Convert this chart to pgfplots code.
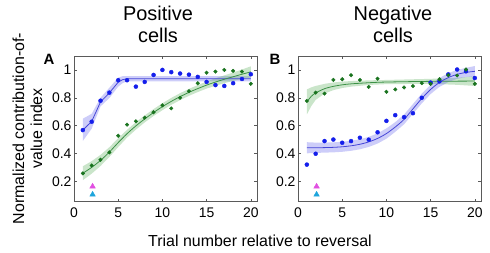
\documentclass[border=0pt]{standalone}
\usepackage{pgfplots}
\pgfplotsset{compat=1.18}
\usepackage{fontspec}
\setmainfont{Liberation Sans}
\definecolor{ptblue}{RGB}{20,30,235}
\definecolor{lnblue}{RGB}{70,70,215}
\definecolor{bdblue}{RGB}{90,90,235}
\definecolor{ptgreen}{RGB}{25,115,30}
\definecolor{lngreen}{RGB}{60,145,70}
\definecolor{bdgreen}{RGB}{80,170,80}
\definecolor{tmag}{RGB}{225,80,225}
\definecolor{tcyan}{RGB}{30,165,220}
\definecolor{frame}{RGB}{90,90,90}
\pgfplotsset{
  panel/.style={
    scale only axis, width=183bp, height=145.5bp,
    xmin=0, xmax=20.7, ymin=0.055, ymax=1.1,
    xtick={0,5,10,15,20}, ytick={0.2,0.4,0.6,0.8,1},
    tick align=inside, major tick length=3bp,
    axis line style={frame, line width=0.5pt},
    tick style={frame, line width=0.4pt},
    ticklabel style={font=\fontsize{14}{15}\selectfont},
    /pgf/number format/assume math mode=true,
    xticklabel style={yshift=-3bp},
    yticklabel style={xshift=1bp},
  },
}
\begin{document}
\begin{tikzpicture}
% Panel A
\begin{axis}[panel, at={(74bp,50.5bp)}, anchor=south west]
\addplot[fill=bdblue, fill opacity=0.3, draw=none] coordinates {(1,0.65) (2,0.685) (3,0.80) (4,0.872) (5,0.945) (5.5,0.955) (6,0.955) (20,0.955) (20,0.918) (6,0.918) (5.5,0.905) (5,0.88) (4,0.798) (3,0.738) (2,0.578) (1,0.49)} -- cycle;
\addplot[fill=bdgreen, fill opacity=0.3, draw=none] coordinates {(1,0.308) (2,0.345) (3,0.39) (4,0.445) (5,0.51) (6,0.57) (7,0.625) (8,0.673) (9,0.719) (10,0.761) (11,0.799) (12,0.833) (13,0.864) (14,0.891) (15,0.916) (16,0.94) (17,0.961) (18,0.981) (19,1.003) (20,1.026) (20,0.946) (19,0.935) (18,0.921) (17,0.905) (16,0.886) (15,0.866) (14,0.841) (13,0.814) (12,0.783) (11,0.749) (10,0.711) (9,0.669) (8,0.623) (7,0.571) (6,0.514) (5,0.446) (4,0.375) (3,0.31) (2,0.255) (1,0.208)} -- cycle;
\addplot[lnblue, line width=0.8pt] coordinates {(1,0.568) (2,0.63) (3,0.77) (4,0.835) (5,0.912) (5.5,0.93) (6,0.936) (20,0.937)};
\addplot[lngreen, line width=0.8pt, smooth] coordinates {(1,0.258) (2,0.30) (3,0.35) (4,0.41) (5,0.478) (6,0.542) (7,0.598) (8,0.648) (9,0.694) (10,0.736) (11,0.774) (12,0.808) (13,0.839) (14,0.866) (15,0.891) (16,0.913) (17,0.933) (18,0.951) (19,0.969) (20,0.986)};
\addplot[only marks, mark=*, mark size=2bp, ptblue] coordinates {(1,0.568) (2,0.628) (3,0.779) (4,0.837) (5,0.926) (6,0.926) (7,0.880) (8,0.914) (9,0.964) (10,1.0) (11,0.984) (12,0.974) (13,0.966) (14,0.950) (15,0.914) (16,0.891) (17,0.885) (18,0.905) (19,0.935) (20,0.969)};
\addplot[only marks, mark=*, mark size=1.8bp, ptgreen] coordinates {(1,0.257) (2,0.314) (3,0.355) (4,0.408) (5,0.527) (6,0.607) (7,0.631) (8,0.657) (9,0.696) (10,0.746) (11,0.724) (12,0.800) (13,0.847) (14,0.904) (15,0.980) (16,0.988) (17,1.000) (18,0.993) (19,0.988) (20,0.900)};
\addplot[only marks, mark=triangle*, mark size=3.2bp, tmag] coordinates {(2.1,0.163)};
\addplot[only marks, mark=triangle*, mark size=3.2bp, tcyan] coordinates {(2.1,0.105)};
\end{axis}
% Panel B
\begin{axis}[panel, at={(298bp,50.5bp)}, anchor=south west]
\addplot[fill=bdgreen, fill opacity=0.3, draw=none] coordinates {(1,0.86) (1.5,0.875) (2,0.885) (3,0.90) (4,0.91) (5,0.916) (6,0.92) (8,0.925) (10,0.928) (15,0.936) (18,0.943) (20,0.955) (20,0.885) (18,0.893) (15,0.90) (10,0.898) (8,0.892) (6,0.88) (5,0.87) (4,0.855) (3,0.83) (2,0.785) (1.5,0.74) (1,0.68)} -- cycle;
\addplot[fill=bdblue, fill opacity=0.3, draw=none] coordinates {(1,0.481) (2,0.478) (3,0.478) (4,0.48) (5,0.484) (6,0.491) (7,0.502) (8,0.519) (9,0.545) (10,0.58) (11,0.625) (12,0.68) (13,0.755) (14,0.83) (15,0.893) (16,0.942) (17,0.977) (18,1.0) (19,1.015) (20,1.028) (20,0.952) (19,0.949) (18,0.936) (17,0.913) (16,0.878) (15,0.827) (14,0.76) (13,0.685) (12,0.61) (11,0.555) (10,0.506) (9,0.471) (8,0.447) (7,0.43) (6,0.419) (5,0.412) (4,0.408) (3,0.406) (2,0.404) (1,0.401)} -- cycle;
\addplot[lngreen, line width=0.8pt, smooth] coordinates {(1,0.77) (1.5,0.81) (2,0.835) (3,0.865) (4,0.882) (5,0.893) (6,0.90) (8,0.908) (10,0.913) (15,0.918) (20,0.92)};
\addplot[lnblue, line width=0.8pt, smooth] coordinates {(1,0.441) (2,0.441) (3,0.442) (4,0.444) (5,0.448) (6,0.455) (7,0.466) (8,0.483) (9,0.508) (10,0.543) (11,0.59) (12,0.645) (13,0.72) (14,0.795) (15,0.86) (16,0.91) (17,0.945) (18,0.968) (19,0.982) (20,0.99)};
\addplot[only marks, mark=*, mark size=2bp, ptblue] coordinates {(1,0.320) (2,0.398) (3,0.489) (4,0.500) (5,0.477) (6,0.489) (7,0.513) (8,0.499) (9,0.552) (10,0.634) (11,0.675) (12,0.661) (13,0.689) (14,0.800) (15,0.909) (16,0.918) (17,0.968) (18,1.003) (19,0.990) (20,0.942)};
\addplot[only marks, mark=*, mark size=1.8bp, ptgreen] coordinates {(1,0.777) (2,0.837) (3,0.830) (4,0.928) (5,0.933) (6,0.962) (7,0.928) (8,0.878) (9,0.937) (10,0.843) (11,0.860) (12,0.874) (13,0.884) (14,0.905) (15,0.900) (16,0.933) (17,0.962) (18,0.960) (19,1.003) (20,0.900)};
\addplot[only marks, mark=triangle*, mark size=3.2bp, tmag] coordinates {(2.1,0.163)};
\addplot[only marks, mark=triangle*, mark size=3.2bp, tcyan] coordinates {(2.1,0.105)};
\end{axis}
% Titles and labels
\begin{scope}[x=1bp,y=1bp]
\node[anchor=base, font=\fontsize{20}{22}\selectfont] at (158,231.3) {Positive};
\node[anchor=base, font=\fontsize{20}{22}\selectfont] at (158,209.3) {cells};
\node[anchor=base, font=\fontsize{20}{22}\selectfont] at (393,231.3) {Negative};
\node[anchor=base, font=\fontsize{20}{22}\selectfont] at (393,209.3) {cells};
\node[anchor=base, font=\fontsize{15}{16}\selectfont\bfseries] at (49,187.5) {A};
\node[anchor=base, font=\fontsize{15}{16}\selectfont\bfseries] at (275,187.5) {B};
\node[anchor=base, rotate=90, font=\fontsize{16}{18}\selectfont] at (24,123.5) {Normalized contribution-of-};
\node[anchor=base, rotate=90, font=\fontsize{16}{18}\selectfont] at (42,123.5) {value index};
\node[anchor=base, font=\fontsize{16}{18}\selectfont] at (260,6) {Trial number relative to reversal};
\path[use as bounding box] (0,0) rectangle (490,252);
\end{scope}
\end{tikzpicture}
\end{document}
